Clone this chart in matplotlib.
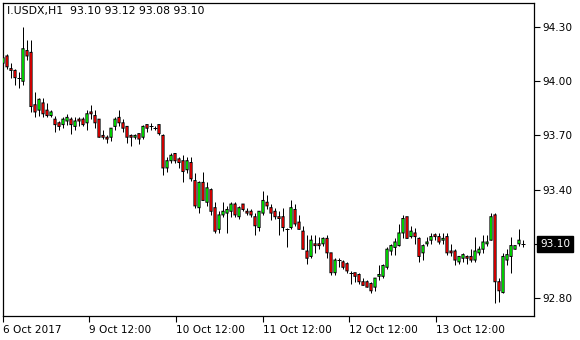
import matplotlib
matplotlib.use("Agg")
import matplotlib.pyplot as plt
import numpy as np

# hourly bars (open, high, low, close)
opens = [94.10, 94.14, 94.07, 94.06, 94.02, 94.00, 94.17, 94.16, 93.87, 93.84,
         93.88, 93.84, 93.81, 93.79, 93.77, 93.76, 93.78, 93.79, 93.75, 93.79,
         93.79, 93.77, 93.83, 93.81, 93.79, 93.70, 93.69, 93.69, 93.75, 93.80,
         93.77, 93.75, 93.70, 93.69, 93.71, 93.69, 93.76, 93.75, 93.74, 93.76,
         93.70, 93.52, 93.56, 93.60, 93.57, 93.56, 93.51, 93.55, 93.45, 93.30,
         93.44, 93.33, 93.40, 93.30, 93.18, 93.26, 93.27, 93.28, 93.32, 93.25,
         93.32, 93.28, 93.28, 93.25, 93.19, 93.27, 93.33, 93.30, 93.28, 93.25,
         93.25, 93.18, 93.19, 93.29, 93.22, 93.17, 93.06, 93.03, 93.10, 93.10,
         93.10, 93.13, 93.05, 92.94, 93.01, 93.00, 92.99, 92.94, 92.94, 92.93,
         92.89, 92.89, 92.88, 92.86, 92.92, 92.92, 92.97, 93.06, 93.08, 93.09,
         93.16, 93.25, 93.14, 93.16, 93.13, 93.05, 93.10, 93.12, 93.15, 93.14,
         93.12, 93.14, 93.06, 93.06, 93.00, 93.02, 93.03, 93.03, 93.01, 93.05,
         93.07, 93.10, 93.12, 93.26, 92.89, 92.83, 93.01, 93.03, 93.07, 93.10,
         93.10]
highs = [94.17, 94.15, 94.10, 94.07, 94.05, 94.30, 94.23, 94.23, 93.94, 93.91,
         93.91, 93.88, 93.84, 93.81, 93.78, 93.80, 93.82, 93.80, 93.80, 93.80,
         93.80, 93.84, 93.87, 93.84, 93.79, 93.73, 93.70, 93.74, 93.80, 93.84,
         93.79, 93.75, 93.71, 93.71, 93.71, 93.76, 93.76, 93.77, 93.75, 93.76,
         93.71, 93.58, 93.60, 93.60, 93.58, 93.59, 93.58, 93.58, 93.49, 93.45,
         93.50, 93.44, 93.41, 93.33, 93.28, 93.33, 93.31, 93.33, 93.33, 93.31,
         93.32, 93.30, 93.29, 93.27, 93.28, 93.39, 93.37, 93.32, 93.30, 93.28,
         93.30, 93.19, 93.34, 93.32, 93.26, 93.20, 93.15, 93.15, 93.15, 93.14,
         93.14, 93.15, 93.05, 93.02, 93.02, 93.01, 93.00, 92.95, 92.94, 92.94,
         92.91, 92.90, 92.89, 92.91, 92.98, 92.99, 93.08, 93.10, 93.13, 93.21,
         93.26, 93.25, 93.20, 93.19, 93.14, 93.10, 93.14, 93.16, 93.16, 93.16,
         93.16, 93.16, 93.10, 93.07, 93.03, 93.05, 93.04, 93.07, 93.14, 93.09,
         93.15, 93.15, 93.27, 93.27, 92.91, 93.05, 93.07, 93.14, 93.09, 93.18,
         93.12]
lows = [94.09, 94.07, 94.02, 93.98, 93.96, 93.98, 94.12, 93.83, 93.80, 93.81,
        93.80, 93.80, 93.80, 93.72, 93.73, 93.74, 93.76, 93.71, 93.73, 93.75,
        93.75, 93.73, 93.79, 93.74, 93.69, 93.68, 93.66, 93.67, 93.73, 93.75,
        93.72, 93.66, 93.64, 93.68, 93.65, 93.68, 93.72, 93.73, 93.73, 93.70,
        93.48, 93.50, 93.55, 93.55, 93.52, 93.44, 93.49, 93.45, 93.30, 93.27,
        93.34, 93.31, 93.26, 93.16, 93.16, 93.25, 93.16, 93.25, 93.25, 93.24,
        93.28, 93.26, 93.25, 93.15, 93.17, 93.26, 93.29, 93.23, 93.24, 93.15,
        93.17, 93.08, 93.18, 93.20, 93.18, 93.07, 92.99, 93.02, 93.05, 93.07,
        93.09, 93.02, 92.93, 92.93, 92.97, 92.96, 92.94, 92.88, 92.89, 92.88,
        92.87, 92.86, 92.83, 92.84, 92.90, 92.91, 92.96, 93.04, 93.04, 93.09,
        93.13, 93.13, 93.13, 93.10, 93.00, 93.01, 93.09, 93.10, 93.12, 93.10,
        93.10, 93.04, 93.03, 92.98, 92.99, 93.00, 92.99, 93.00, 93.00, 93.04,
        93.05, 93.09, 93.12, 92.77, 92.78, 92.83, 92.98, 92.94, 93.07, 93.09,
        93.08]
closes = [94.13, 94.08, 94.06, 94.02, 94.02, 94.18, 94.14, 93.86, 93.83, 93.90,
          93.82, 93.81, 93.83, 93.76, 93.75, 93.79, 93.80, 93.76, 93.78, 93.78,
          93.76, 93.82, 93.82, 93.77, 93.69, 93.69, 93.68, 93.74, 93.79, 93.77,
          93.74, 93.69, 93.69, 93.70, 93.68, 93.75, 93.74, 93.75, 93.74, 93.71,
          93.52, 93.56, 93.59, 93.56, 93.55, 93.50, 93.56, 93.46, 93.31, 93.44,
          93.34, 93.41, 93.28, 93.17, 93.26, 93.28, 93.29, 93.32, 93.26, 93.30,
          93.29, 93.27, 93.26, 93.20, 93.28, 93.34, 93.31, 93.27, 93.25, 93.24,
          93.19, 93.18, 93.30, 93.21, 93.18, 93.07, 93.02, 93.12, 93.09, 93.09,
          93.13, 93.05, 92.94, 93.01, 93.01, 92.97, 92.95, 92.94, 92.92, 92.89,
          92.87, 92.86, 92.84, 92.91, 92.93, 92.98, 93.07, 93.09, 93.11, 93.16,
          93.24, 93.13, 93.17, 93.14, 93.03, 93.09, 93.11, 93.14, 93.14, 93.11,
          93.13, 93.05, 93.05, 93.01, 93.03, 93.04, 93.02, 93.01, 93.06, 93.07,
          93.11, 93.11, 93.25, 92.89, 92.84, 93.03, 93.04, 93.09, 93.09, 93.12,
          93.10]

price_ticks = [92.80, 93.10, 93.40, 93.70, 94.00, 94.30]
date_labels = ["6 Oct 2017", "9 Oct 12:00", "10 Oct 12:00", "11 Oct 12:00",
               "12 Oct 12:00", "13 Oct 12:00"]
date_bars = [0, 21.5, 43.25, 65, 86.5, 108.25]
title = "I.USDX,H1  93.10 93.12 93.08 93.10"

o = np.array(opens)
h = np.array(highs)
l = np.array(lows)
c = np.array(closes)
x = np.arange(len(o))
last = closes[-1]

fig = plt.figure(figsize=(5.8, 3.4), dpi=100)
ax = fig.add_axes([2.5 / 580, 24.5 / 340, 531.5 / 580, 313 / 340])
ymin, ymax = 92.703, 94.436
ax.set_xlim(-0.125, 132.75)
ax.set_ylim(ymin, ymax)
px = (ymax - ymin) / 313.0  # one pixel in price units

# wicks
ax.vlines(x, l, h, color="black", linewidth=0.72, zorder=1)

top = np.maximum(o, c)
bot = np.minimum(o, c)
body = c != o
# black outline body, then a thin coloured core (MT4 look)
ax.bar(x[body], (top - bot)[body] + px, bottom=bot[body] - px / 2, width=0.8,
       color="black", linewidth=0, zorder=2, snap=False)
fill = np.where(c > o, "#00ff00", "#ff0000")
inner = (top - bot) - px
ok = body & (inner > 0)
ax.bar(x[ok], inner[ok], bottom=bot[ok] + px / 2, width=0.4,
       color=fill[ok], linewidth=0, zorder=3, snap=False)
flat = ~body
ax.hlines(o[flat], x[flat] - 0.4, x[flat] + 0.4, color="black",
          linewidth=0.72, zorder=2)

ax.yaxis.tick_right()
ax.set_yticks(price_ticks)
# the tick level under the last-price box is covered by the box
ax.set_yticklabels(["" if abs(p - last) < 1e-9 else "%.2f" % p for p in price_ticks])
ax.set_xticks(date_bars)
ax.set_xticklabels(date_labels, ha="left")
ax.tick_params(axis="both", direction="out", length=4, width=0.8,
               labelsize=7.6, colors="black", pad=2)
ax.tick_params(axis="x", pad=3)
for sp in ax.spines.values():
    sp.set_linewidth(0.9)

ax.text(0.008, 0.99, title, transform=ax.transAxes, ha="left", va="top",
        fontsize=7.8)

# last price marker
ax.annotate("%.2f" % last, xy=(1.0, last),
            xycoords=("axes fraction", "data"), xytext=(6, 0),
            textcoords="offset pixels", ha="left", va="center",
            fontsize=7.6, color="white",
            bbox=dict(boxstyle="square,pad=0.3", facecolor="black", edgecolor="black"))

fig.savefig("out.png", dpi=100)
